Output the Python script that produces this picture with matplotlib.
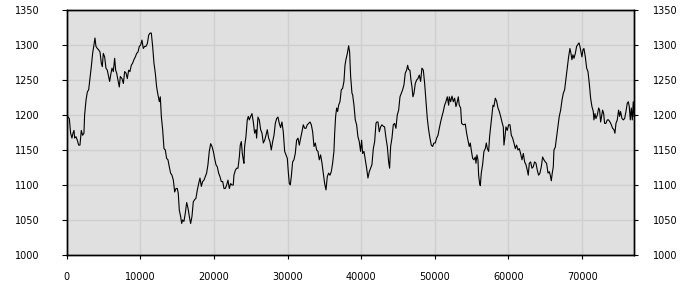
import matplotlib
matplotlib.use("Agg")
import matplotlib.pyplot as plt

# values (x position, y level)
x_vals = [
    0, 180, 360, 540, 720, 860, 1000, 1090, 1270, 1450, 1630, 1810, 1990, 2170, 2350, 2440,
    2630, 2810, 2990, 3170, 3350, 3530, 3710, 3850, 3980, 4170, 4350, 4530, 4710, 4840, 4980,
    5160, 5340, 5520, 5700, 5840, 5980, 6160, 6340, 6520, 6660, 6790, 6970, 7150, 7290, 7520,
    7700, 7880, 8060, 8240, 8420, 8600, 8780, 8960, 9140, 9330, 9510, 9690, 9870, 10050, 10230,
    10410, 10590, 10770, 10960, 11140, 11320, 11500, 11680, 11860, 12040, 12220, 12400, 12590,
    12720, 12860, 13040, 13220, 13400, 13580, 13760, 13940, 14120, 14300, 14490, 14670, 14850,
    15030, 15160, 15300, 15480, 15620, 15750, 15930, 16120, 16300, 16480, 16660, 16840, 17020,
    17200, 17380, 17560, 17750, 17930, 18110, 18290, 18470, 18650, 18830, 19010, 19190, 19370,
    19560, 19740, 19920, 20100, 20280, 20460, 20640, 20820, 21000, 21190, 21370, 21550, 21730,
    21910, 22090, 22270, 22450, 22630, 22720, 22910, 23090, 23270, 23450, 23580, 23720, 23860,
    23990, 24080, 24170, 24350, 24530, 24670, 24810, 24990, 25170, 25350, 25530, 25710, 25800,
    25980, 26160, 26350, 26530, 26710, 26890, 27070, 27250, 27430, 27610, 27790, 27980, 28160,
    28340, 28520, 28700, 28880, 29060, 29240, 29420, 29610, 29790, 29970, 30100, 30240, 30370,
    30510, 30690, 30870, 31050, 31230, 31420, 31600, 31780, 31960, 32140, 32320, 32500, 32680,
    32860, 33050, 33230, 33410, 33590, 33770, 33950, 34130, 34310, 34490, 34680, 34860, 35040,
    35220, 35400, 35580, 35760, 35940, 36120, 36300, 36400, 36530, 36670, 36800, 36940, 37120,
    37300, 37480, 37660, 37800, 37930, 38120, 38300, 38430, 38570, 38750, 38840, 39020, 39200,
    39380, 39560, 39740, 39920, 40060, 40200, 40380, 40560, 40740, 40920, 41100, 41280, 41460,
    41650, 41830, 42010, 42100, 42280, 42460, 42640, 42820, 43000, 43180, 43370, 43550, 43730,
    43860, 44000, 44180, 44360, 44540, 44720, 44900, 45090, 45270, 45450, 45630, 45810, 45990,
    46170, 46310, 46440, 46620, 46760, 46900, 47030, 47170, 47350, 47530, 47710, 47890, 48070,
    48250, 48440, 48620, 48800, 48980, 49160, 49340, 49520, 49700, 49880, 50060, 50250, 50430,
    50610, 50790, 50970, 51150, 51330, 51510, 51690, 51880, 51970, 52150, 52330, 52510, 52690,
    52870, 53050, 53190, 53320, 53510, 53640, 53870, 54140, 54320, 54500, 54680, 54820, 54950,
    55140, 55320, 55500, 55590, 55720, 55860, 55950, 56090, 56180, 56310, 56490, 56670, 56860,
    56990, 57130, 57310, 57440, 57580, 57760, 57900, 58030, 58210, 58390, 58580, 58760, 58940,
    59120, 59300, 59390, 59530, 59660, 59840, 60020, 60210, 60390, 60570, 60750, 60930, 61110,
    61290, 61470, 61650, 61840, 62020, 62200, 62380, 62560, 62690, 62830, 63010, 63190, 63370,
    63550, 63740, 63920, 64100, 64280, 64460, 64640, 64820, 65000, 65180, 65370, 65550, 65680,
    65820, 65950, 66090, 66180, 66360, 66540, 66720, 66900, 67090, 67270, 67450, 67630, 67810,
    67990, 68170, 68350, 68490, 68620, 68760, 68900, 69080, 69260, 69440, 69580, 69710, 69850,
    69980, 70120, 70250, 70440, 70620, 70800, 70980, 71160, 71340, 71520, 71610, 71750, 71880,
    72070, 72250, 72380, 72520, 72650, 72790, 72930, 73060, 73240, 73420, 73600, 73790, 73970,
    74150, 74330, 74460, 74600, 74780, 74960, 75100, 75230, 75420, 75600, 75780, 75960, 76140,
    76280, 76410, 76550, 76680, 76820, 76950, 77050,
]
y_vals = [
    1202, 1197, 1195, 1174, 1167, 1174, 1178, 1167, 1169, 1164, 1157, 1157, 1178, 1171, 1174, 1200,
    1221, 1233, 1236, 1252, 1269, 1288, 1300, 1310, 1298, 1295, 1293, 1290, 1274, 1269, 1288,
    1283, 1267, 1264, 1255, 1248, 1257, 1267, 1262, 1281, 1264, 1260, 1250, 1240, 1255, 1252,
    1245, 1262, 1260, 1252, 1264, 1262, 1271, 1274, 1279, 1283, 1288, 1290, 1298, 1300, 1307,
    1295, 1298, 1298, 1302, 1314, 1317, 1317, 1298, 1274, 1260, 1240, 1229, 1219,
    1226, 1198, 1179, 1152, 1150, 1138, 1136, 1126, 1117, 1114, 1107, 1090, 1095,
    1095, 1088, 1064, 1055, 1045, 1050, 1048, 1060, 1075, 1067, 1055, 1045, 1055,
    1076, 1079, 1081, 1093, 1102, 1110, 1098, 1105, 1107, 1112, 1117, 1129, 1148,
    1159, 1155, 1148, 1138, 1129, 1126, 1117, 1112, 1105, 1105, 1095, 1095, 1100,
    1107, 1095, 1102, 1100, 1100, 1114, 1121, 1124, 1124, 1140, 1157, 1162, 1145,
    1136, 1131, 1155, 1169, 1193, 1198, 1193, 1198, 1202, 1190, 1174, 1179, 1167,
    1197, 1193, 1179, 1174, 1160, 1164, 1171, 1179, 1167, 1162, 1150, 1162, 1171,
    1188, 1195, 1197, 1188, 1182, 1190, 1176, 1148, 1143, 1138, 1119, 1102, 1100,
    1112, 1133, 1136, 1145, 1164, 1167, 1157, 1167, 1176, 1186, 1181, 1181, 1186,
    1188, 1190, 1186, 1176, 1155, 1160, 1150, 1148, 1136, 1143, 1131, 1117, 1102,
    1093, 1112, 1117, 1114, 1119, 1131, 1148, 1174, 1198, 1210, 1205, 1214, 1219,
    1236, 1238, 1248, 1271, 1279, 1288, 1299, 1290, 1255, 1231, 1229, 1214, 1193,
    1186, 1169, 1162, 1148, 1164, 1145, 1148, 1136, 1124, 1110, 1119, 1124, 1129,
    1152, 1162, 1188, 1190, 1190, 1176, 1183, 1186, 1184, 1183, 1167, 1155, 1133,
    1124, 1155, 1167, 1186, 1188, 1181, 1200, 1207, 1226, 1231, 1236, 1243, 1260,
    1264, 1271, 1265, 1264, 1250, 1240, 1226, 1231, 1245, 1250, 1252, 1257, 1248,
    1267, 1264, 1245, 1221, 1195, 1179, 1167, 1157, 1155, 1160, 1160, 1167, 1171,
    1181, 1190, 1198, 1205, 1214, 1219, 1226, 1214, 1226, 1219, 1227, 1219, 1224,
    1212, 1219, 1226, 1214, 1210, 1188, 1186, 1187, 1174, 1164, 1155, 1160, 1150,
    1138, 1136, 1140, 1131, 1143, 1136, 1114, 1102, 1099, 1117, 1129, 1148, 1152,
    1160, 1152, 1148, 1169, 1183, 1202, 1214, 1212, 1224, 1220, 1210, 1205, 1198,
    1190, 1183, 1157, 1169, 1183, 1178, 1186, 1186, 1171, 1167, 1160, 1152, 1157,
    1150, 1152, 1145, 1136, 1145, 1133, 1129, 1121, 1114, 1131, 1133, 1124, 1126,
    1133, 1131, 1121, 1114, 1117, 1126, 1140, 1136, 1133, 1131, 1117, 1119, 1114,
    1106, 1117, 1126, 1150, 1154, 1169, 1183, 1198, 1207, 1221, 1231, 1236, 1252,
    1269, 1283, 1295, 1288, 1279, 1286, 1281, 1288, 1298, 1301, 1303, 1298, 1290,
    1283, 1293, 1295, 1283, 1267, 1262, 1245, 1224, 1212, 1205, 1193, 1202, 1195,
    1200, 1210, 1207, 1190, 1198, 1207, 1202, 1188, 1188, 1193, 1193, 1190, 1186,
    1181, 1179, 1174, 1188, 1193, 1207, 1198, 1205, 1195, 1193, 1195, 1205, 1217,
    1219, 1212, 1193, 1210, 1193, 1219, 1198,
]

x_ticks = [0, 10000, 20000, 30000, 40000, 50000, 60000, 70000]
y_ticks = [1000, 1050, 1100, 1150, 1200, 1250, 1300, 1350]

fig = plt.figure(figsize=(7, 3), dpi=100)
ax = fig.add_axes([0.0952, 0.15, 0.8105, 0.8167])
ax.set_facecolor("#e0e0e0")

ax.plot(x_vals, y_vals, color="black", lw=0.8, zorder=3)

ax.set_xlim(0, 77050)
ax.set_ylim(1000, 1350)
ax.set_xticks(x_ticks)
ax.set_yticks(y_ticks)
ax.grid(True, color="#cfcfcf", lw=1.0, zorder=0)
ax.set_axisbelow(True)

for s in ax.spines.values():
    s.set_color("black")
    s.set_linewidth(1.0)

ax.tick_params(axis="x", direction="out", length=3, width=0.8, pad=9,
               labelsize=7, colors="black")
# left side: labels only, no tick marks
ax.tick_params(axis="y", left=False, right=False, pad=16, labelsize=7, colors="black")

# right side: short outward ticks + labels
ax2 = ax.twinx()
ax2.set_ylim(1000, 1350)
ax2.set_yticks(y_ticks)
ax2.tick_params(axis="y", direction="out", length=3, width=0.8, pad=11,
                labelsize=7, colors="black")
for s in ax2.spines.values():
    s.set_color("black")
    s.set_linewidth(1.0)

fig.savefig("out.png", dpi=100)
